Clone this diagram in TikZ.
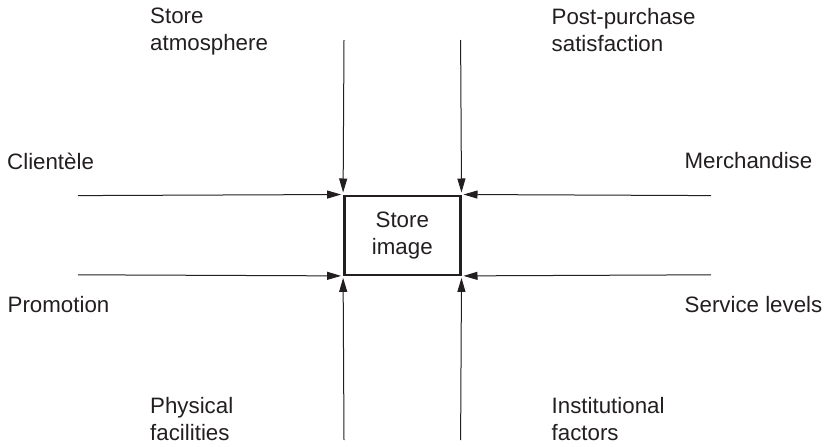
\documentclass[tikz,border=0pt]{standalone}
\usepackage{fontspec}
\setmainfont{Liberation Sans}
\usetikzlibrary{arrows.meta}
\definecolor{ink}{HTML}{231F20}
\begin{document}
\begin{tikzpicture}[x=1pt,y=-1pt,
  every node/.style={text=ink},
  label/.style={inner sep=0pt, align=left, font=\fontsize{22.3}{27}\selectfont},
  core/.style={draw=ink, line width=2.4pt, minimum width=116pt, minimum height=79pt,
    inner sep=0pt, align=center, font=\fontsize{22.3}{27}\selectfont},
  feed/.style={draw=ink, line width=1pt, -{Triangle[length=14pt,width=8pt]}, shorten >=2pt}]
  \useasboundingbox (0,0) rectangle (825,447);

  % central box
  \node[core] (img) at (402.3,235.2) {Store\\image};

  % influencing factors
  \node[label, anchor=north west] (atm) at (150,8) {Store\\atmosphere};
  \node[label, anchor=north west] (post) at (551.5,8) {Post-purchase\\satisfaction};
  \node[label, anchor=north west] (cli) at (7,152.5) {Clientèle};
  \node[label, anchor=north east] (mer) at (812.5,152.5) {Merchandise};
  \node[label, anchor=north west] (pro) at (7.5,296.5) {Promotion};
  \node[label, anchor=north east] (ser) at (822.5,296.5) {Service levels};
  \node[label, anchor=north west] (phy) at (150,397.5) {Physical\\facilities};
  \node[label, anchor=north west] (ins) at (551.5,397.5) {Institutional\\factors};

  % free ends of the connectors
  \coordinate (t1) at (344,40);
  \coordinate (t2) at (460.6,40);
  \coordinate (b1) at (344,440);
  \coordinate (b2) at (460.6,440);
  \coordinate (l1) at (78,195.6);
  \coordinate (l2) at (78,274.8);
  \coordinate (r1) at (711,195.6);
  \coordinate (r2) at (711,274.8);

  \draw[feed] (t1) -- (img.north west);
  \draw[feed] (t2) -- (img.north east);
  \draw[feed] (b1) -- (img.south west);
  \draw[feed] (b2) -- (img.south east);
  \draw[feed] (l1) -- (img.north west);
  \draw[feed] (l2) -- (img.south west);
  \draw[feed] (r1) -- (img.north east);
  \draw[feed] (r2) -- (img.south east);
\end{tikzpicture}
\end{document}
